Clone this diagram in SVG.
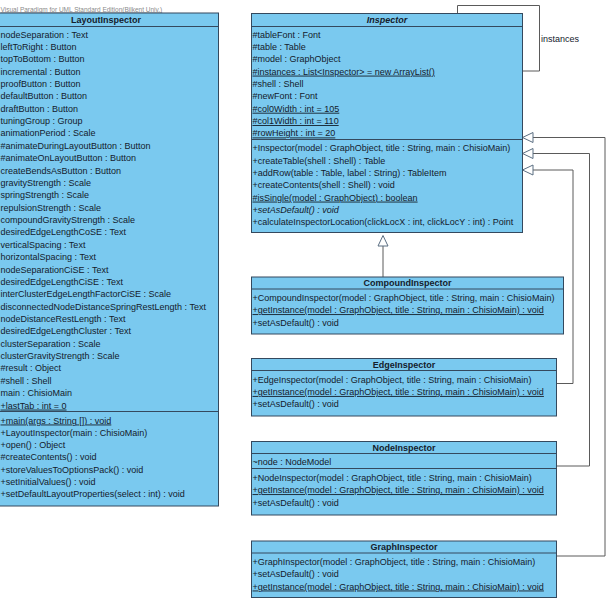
<svg xmlns="http://www.w3.org/2000/svg" width="608" height="602" viewBox="0 0 608 602">
<style>
text{font-family:"Liberation Sans",Arial,sans-serif;font-size:9px;fill:#14202c}
.h{font-weight:bold;text-anchor:middle}
.u{text-decoration:underline}
.i{font-style:italic}
.box{fill:#7ac9ef;stroke:#34495e;stroke-width:1}
.sep{stroke:#34495e;stroke-width:1}
.wm{font-size:6.5px;fill:#8a8a8a;text-decoration:underline}
.c{fill:none;stroke:#5a5a5a;stroke-width:1}
.tri{fill:#ffffff;stroke:#5a6e82;stroke-width:1}
</style>
<rect x="0" y="0" width="608" height="602" fill="#ffffff"/>
<text class="wm" x="0.5" y="11.5">Visual Paradigm for UML Standard Edition(Bilkent Univ.)</text>

<g id="connectors">
<path class="c" d="M457.5 13.5 V5.5 H539.5 V71 H522.5"/>
<text x="541" y="41.7">instances</text>
<path class="c" d="M383 277 V246"/>
<polygon class="tri" points="383,235.5 378,246 388,246"/>
<path class="c" d="M556.5 383.5 H573 V170 H533"/>
<polygon class="tri" points="522.5,170 533,165 533,175"/>
<path class="c" d="M556.5 466 H589.5 V153.5 H533"/>
<polygon class="tri" points="522.5,153.5 533,148.5 533,158.5"/>
<path class="c" d="M556.5 556 H605 V137.5 H533"/>
<polygon class="tri" points="522.5,137.5 533,132.5 533,142.5"/>
</g>

<g id="LayoutInspector">
<rect class="box" x="-6" y="13" width="224.5" height="493"/>
<line class="sep" x1="-6" y1="26.5" x2="218.5" y2="26.5"/>
<line class="sep" x1="-6" y1="411.5" x2="218.5" y2="411.5"/>
<text class="h" x="106" y="23">LayoutInspector</text>
<text x="0.5" y="37.5">nodeSeparation : Text</text>
<text x="0.5" y="49.87">leftToRight : Button</text>
<text x="0.5" y="62.24">topToBottom : Button</text>
<text x="0.5" y="74.61">incremental : Button</text>
<text x="0.5" y="86.98">proofButton : Button</text>
<text x="0.5" y="99.35">defaultButton : Button</text>
<text x="0.5" y="111.72">draftButton : Button</text>
<text x="0.5" y="124.09">tuningGroup : Group</text>
<text x="0.5" y="136.46">animationPeriod : Scale</text>
<text x="0.5" y="148.83">#animateDuringLayoutButton : Button</text>
<text x="0.5" y="161.2">#animateOnLayoutButton : Button</text>
<text x="0.5" y="173.57">createBendsAsButton : Button</text>
<text x="0.5" y="185.94">gravityStrength : Scale</text>
<text x="0.5" y="198.31">springStrength : Scale</text>
<text x="0.5" y="210.68">repulsionStrength : Scale</text>
<text x="0.5" y="223.05">compoundGravityStrength : Scale</text>
<text x="0.5" y="235.42">desiredEdgeLengthCoSE : Text</text>
<text x="0.5" y="247.79">verticalSpacing : Text</text>
<text x="0.5" y="260.16">horizontalSpacing : Text</text>
<text x="0.5" y="272.53">nodeSeparationCiSE : Text</text>
<text x="0.5" y="284.9">desiredEdgeLengthCiSE : Text</text>
<text x="0.5" y="297.27">interClusterEdgeLengthFactorCiSE : Scale</text>
<text x="0.5" y="309.64">disconnectedNodeDistanceSpringRestLength : Text</text>
<text x="0.5" y="322.01">nodeDistanceRestLength : Text</text>
<text x="0.5" y="334.38">desiredEdgeLengthCluster : Text</text>
<text x="0.5" y="346.75">clusterSeparation : Scale</text>
<text x="0.5" y="359.12">clusterGravityStrength : Scale</text>
<text x="0.5" y="371.49">#result : Object</text>
<text x="0.5" y="383.86">#shell : Shell</text>
<text x="0.5" y="396.23">main : ChisioMain</text>
<text class="u" x="0.5" y="408.6">+lastTab : int = 0</text>
<text class="u" x="0.5" y="423.5">+main(args : String []) : void</text>
<text x="0.5" y="435.8">+LayoutInspector(main : ChisioMain)</text>
<text x="0.5" y="448.1">+open() : Object</text>
<text x="0.5" y="460.4">#createContents() : void</text>
<text x="0.5" y="472.7">+storeValuesToOptionsPack() : void</text>
<text x="0.5" y="485">+setInitialValues() : void</text>
<text x="0.5" y="497.3">+setDefaultLayoutProperties(select : int) : void</text>
</g>

<g id="Inspector">
<rect class="box" x="251.5" y="13.5" width="271" height="219"/>
<line class="sep" x1="251.5" y1="26.5" x2="522.5" y2="26.5"/>
<line class="sep" x1="251.5" y1="139.5" x2="522.5" y2="139.5"/>
<text class="h i" x="387" y="23">Inspector</text>
<text x="252.5" y="37.5">#tableFont : Font</text>
<text x="252.5" y="49.87">#table : Table</text>
<text x="252.5" y="62.24">#model : GraphObject</text>
<text class="u" x="252.5" y="74.61">#instances : List&lt;Inspector&gt; = new ArrayList()</text>
<text x="252.5" y="86.98">#shell : Shell</text>
<text x="252.5" y="99.35">#newFont : Font</text>
<text class="u" x="252.5" y="111.72">#col0Width : int = 105</text>
<text class="u" x="252.5" y="124.09">#col1Width : int = 110</text>
<text class="u" x="252.5" y="136.46">#rowHeight : int = 20</text>
<text x="252.5" y="151.2">+Inspector(model : GraphObject, title : String, main : ChisioMain)</text>
<text x="252.5" y="163.55">+createTable(shell : Shell) : Table</text>
<text x="252.5" y="175.9">+addRow(table : Table, label : String) : TableItem</text>
<text x="252.5" y="188.25">+createContents(shell : Shell) : void</text>
<text class="u" x="252.5" y="200.6">#isSingle(model : GraphObject) : boolean</text>
<text class="i" x="252.5" y="212.95">+setAsDefault() : void</text>
<text x="252.5" y="225.3">+calculateInspectorLocation(clickLocX : int, clickLocY : int) : Point</text>
</g>

<g id="CompoundInspector">
<rect class="box" x="251.5" y="277" width="312" height="57"/>
<line class="sep" x1="251.5" y1="289" x2="563.5" y2="289"/>
<text class="h" x="407.5" y="286.3">CompoundInspector</text>
<text x="252.5" y="300.8">+CompoundInspector(model : GraphObject, title : String, main : ChisioMain)</text>
<text class="u" x="252.5" y="313.15">+getInstance(model : GraphObject, title : String, main : ChisioMain) : void</text>
<text x="252.5" y="325.5">+setAsDefault() : void</text>
</g>

<g id="EdgeInspector">
<rect class="box" x="251.5" y="358.5" width="305" height="57.5"/>
<line class="sep" x1="251.5" y1="370.5" x2="556.5" y2="370.5"/>
<text class="h" x="404" y="368">EdgeInspector</text>
<text x="252.5" y="382.6">+EdgeInspector(model : GraphObject, title : String, main : ChisioMain)</text>
<text class="u" x="252.5" y="394.95">+getInstance(model : GraphObject, title : String, main : ChisioMain) : void</text>
<text x="252.5" y="407.3">+setAsDefault() : void</text>
</g>

<g id="NodeInspector">
<rect class="box" x="251.5" y="441.5" width="305" height="73.5"/>
<line class="sep" x1="251.5" y1="453.5" x2="556.5" y2="453.5"/>
<line class="sep" x1="251.5" y1="468.5" x2="556.5" y2="468.5"/>
<text class="h" x="404" y="451">NodeInspector</text>
<text x="252.5" y="464.8">~node : NodeModel</text>
<text x="252.5" y="480.8">+NodeInspector(model : GraphObject, title : String, main : ChisioMain)</text>
<text class="u" x="252.5" y="493.15">+getInstance(model : GraphObject, title : String, main : ChisioMain) : void</text>
<text x="252.5" y="505.5">+setAsDefault() : void</text>
</g>

<g id="GraphInspector">
<rect class="box" x="251.5" y="541" width="305" height="56.5"/>
<line class="sep" x1="251.5" y1="553" x2="556.5" y2="553"/>
<text class="h" x="404" y="550.3">GraphInspector</text>
<text x="252.5" y="564.8">+GraphInspector(model : GraphObject, title : String, main : ChisioMain)</text>
<text x="252.5" y="577.15">+setAsDefault() : void</text>
<text class="u" x="252.5" y="589.5">+getInstance(model : GraphObject, title : String, main : ChisioMain) : void</text>
</g>
</svg>
